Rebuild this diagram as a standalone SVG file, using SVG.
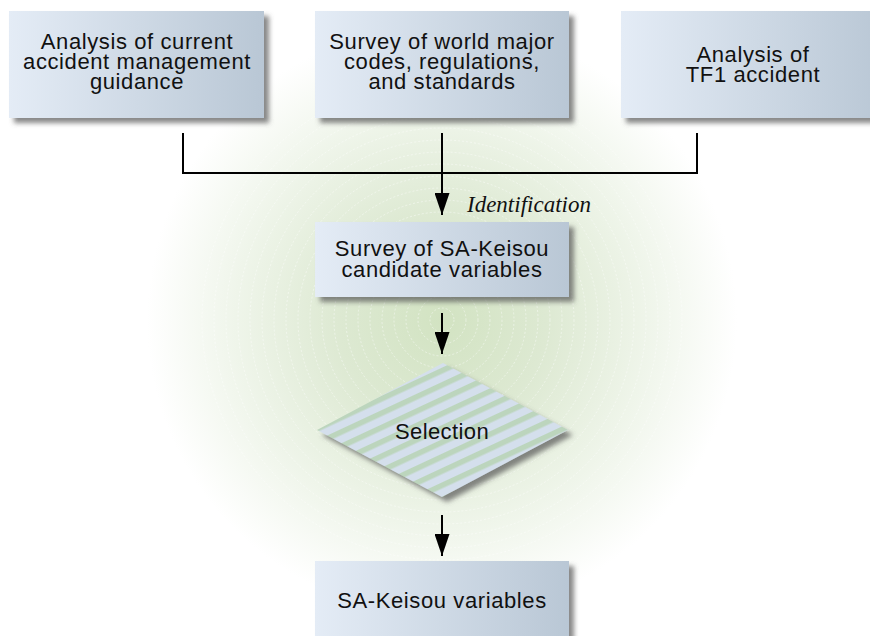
<svg xmlns="http://www.w3.org/2000/svg" width="870" height="636" viewBox="0 0 870 636">
<defs>
<radialGradient id="bg" cx="442" cy="320" r="295" gradientUnits="userSpaceOnUse">
<stop offset="0" stop-color="#d2e3c2"/>
<stop offset="0.35" stop-color="#dde9d2"/>
<stop offset="0.7" stop-color="#eff5ea"/>
<stop offset="1" stop-color="#ffffff"/>
</radialGradient>
<linearGradient id="boxg" x1="0" y1="0" x2="1" y2="0">
<stop offset="0" stop-color="#e4ecf6"/>
<stop offset="1" stop-color="#b9c7d5"/>
</linearGradient>
<pattern id="stripes" patternUnits="userSpaceOnUse" width="13" height="13" patternTransform="rotate(-25)">
<rect width="13" height="13" fill="#d4dfec"/>
<rect width="13" height="5.5" fill="#bcd5bd"/>
</pattern>
<filter id="sh" x="-10%" y="-10%" width="130%" height="140%">
<feGaussianBlur in="SourceAlpha" stdDeviation="2.5"/>
<feOffset dx="5" dy="5" result="b"/>
<feFlood flood-color="#555" flood-opacity="0.7"/>
<feComposite in2="b" operator="in"/>
<feMerge><feMergeNode/><feMergeNode in="SourceGraphic"/></feMerge>
</filter>
<marker id="arr" markerWidth="22" markerHeight="15" refX="22" refY="7.5" orient="auto" markerUnits="userSpaceOnUse" viewBox="0 0 22 15">
<path d="M0,0 L22,7.5 L0,15 Z" fill="#000"/>
</marker>
</defs>
<style>
.box{fill:url(#boxg);filter:url(#sh)}
.t{font-family:"Liberation Sans",Arial,sans-serif;font-size:22px;letter-spacing:0.6px;fill:#111;text-anchor:middle}
.ln{stroke:#000;stroke-width:2;fill:none}
.circ{fill:none;stroke:#fff;stroke-opacity:0.55;stroke-width:0.8;stroke-dasharray:2 2}
</style>
<rect width="870" height="636" fill="#fff"/>
<rect width="870" height="636" fill="url(#bg)"/>
<g id="background-rings">
<circle class="circ" cx="442" cy="320" r="12"/>
<circle class="circ" cx="442" cy="320" r="24"/>
<circle class="circ" cx="442" cy="320" r="36"/>
<circle class="circ" cx="442" cy="320" r="48"/>
<circle class="circ" cx="442" cy="320" r="60"/>
<circle class="circ" cx="442" cy="320" r="72"/>
<circle class="circ" cx="442" cy="320" r="84"/>
<circle class="circ" cx="442" cy="320" r="96"/>
<circle class="circ" cx="442" cy="320" r="108"/>
<circle class="circ" cx="442" cy="320" r="120"/>
<circle class="circ" cx="442" cy="320" r="132"/>
<circle class="circ" cx="442" cy="320" r="144"/>
<circle class="circ" cx="442" cy="320" r="156"/>
<circle class="circ" cx="442" cy="320" r="168"/>
<circle class="circ" cx="442" cy="320" r="180"/>
<circle class="circ" cx="442" cy="320" r="192"/>
<circle class="circ" cx="442" cy="320" r="204"/>
<circle class="circ" cx="442" cy="320" r="216"/>
<circle class="circ" cx="442" cy="320" r="228"/>
<circle class="circ" cx="442" cy="320" r="240"/>
</g>
<g id="connectors">
<polyline class="ln" points="183,133 183,173 697,173 697,133"/>
<line class="ln" x1="442" y1="133" x2="442" y2="215" marker-end="url(#arr)"/>
<line class="ln" x1="442" y1="313" x2="442" y2="354" marker-end="url(#arr)"/>
<line class="ln" x1="442" y1="515" x2="442" y2="556" marker-end="url(#arr)"/>
<text x="467" y="212" style="font-family:'Liberation Serif','Times New Roman',serif;font-style:italic;font-size:23px;fill:#111">Identification</text>
</g>
<g id="node-analysis-guidance">
<rect class="box" x="9" y="11" width="255" height="107"/>
<text class="t" x="137" y="49">Analysis of current</text>
<text class="t" x="137" y="69">accident management</text>
<text class="t" x="137" y="89">guidance</text>
</g>
<g id="node-survey-codes">
<rect class="box" x="315" y="11" width="254" height="107"/>
<text class="t" x="442" y="49">Survey of world major</text>
<text class="t" x="442" y="69">codes, regulations,</text>
<text class="t" x="442" y="89">and standards</text>
</g>
<g id="node-analysis-tf1">
<rect class="box" x="621" y="11" width="264" height="107"/>
<text class="t" x="753" y="62">Analysis of</text>
<text class="t" x="753" y="82">TF1 accident</text>
</g>
<g id="node-survey-candidates">
<rect class="box" x="315" y="222" width="254" height="75"/>
<text class="t" x="442" y="256">Survey of SA-Keisou</text>
<text class="t" x="442" y="277">candidate variables</text>
</g>
<g id="node-selection">
<polygon points="443,363 568,430 442,497 317,430" fill="url(#stripes)" filter="url(#sh)"/>
<text class="t" x="442" y="439" style="letter-spacing:0.4px">Selection</text>
</g>
<g id="node-sa-keisou-variables">
<rect class="box" x="315" y="561" width="254" height="75"/>
<text class="t" x="442" y="608">SA-Keisou variables</text>
</g>
</svg>
